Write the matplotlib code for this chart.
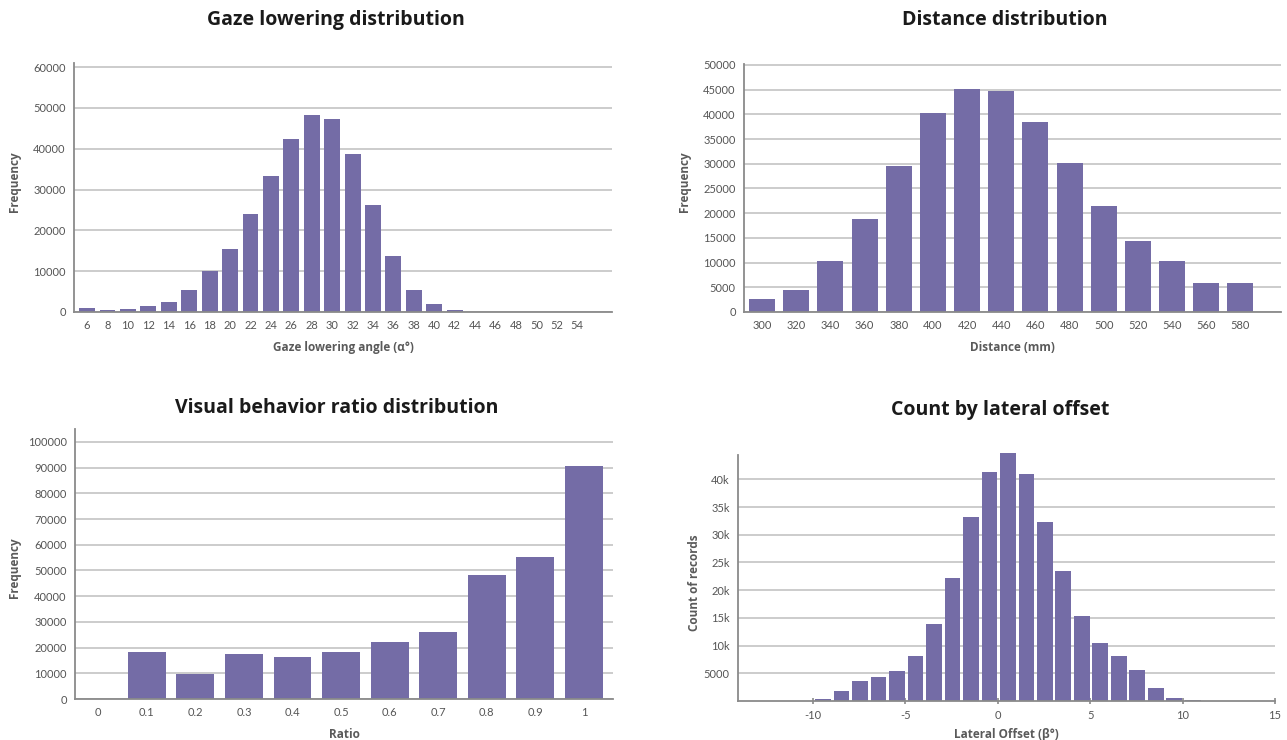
import numpy as np
import matplotlib
matplotlib.use('Agg')
import matplotlib.pyplot as plt

#------------------------------------------------------------------
# data
#------------------------------------------------------------------

gaze_angles = ['6', '8', '10', '12', '14', '16', '18', '20', '22', '24', '26', '28', '30',
               '32', '34', '36', '38', '40', '42', '44', '46', '48', '50', '52', '54']
gaze_freq = [1100, 400, 800, 1550, 2500, 5500, 10000, 15500, 23900, 33400, 42300, 48150, 47400,
             38600, 26300, 13800, 5500, 2050, 570, 0, 0, 0, 0, 0, 0]

distances = ['300', '320', '340', '360', '380', '400', '420', '440', '460', '480', '500',
             '520', '540', '560', '580']
distance_freq = [2550, 4400, 10270, 18800, 29550, 40300, 45150, 44750, 38450, 30100, 21400,
                 14300, 10270, 5800, 5800]

ratios = ['0', '0.1', '0.2', '0.3', '0.4', '0.5', '0.6', '0.7', '0.8', '0.9', '1']
ratio_freq = [0, 18200, 9600, 17400, 16200, 18200, 22100, 26000, 48200, 55200, 90600]

# lateral offset bins, left edge of each 1 degree bin
offset_bins = [-10, -9, -8, -7, -6, -5, -4, -3, -2, -1, 0, 1, 2, 3, 4, 5, 6, 7, 8, 9, 10]
offset_count = [420, 1800, 3670, 4330, 5410, 8120, 13900, 22200, 33200, 41300, 44750, 40950,
                32300, 23450, 15350, 10450, 8120, 5600, 2350, 540, 180]

#------------------------------------------------------------------
# settings
#------------------------------------------------------------------

bar_color = '#746ca6'
grid_color = '#c4c4c4'
spine_color = '#8a8a8a'
tick_color = '#555555'
label_color = '#5a5a5a'

plt.rcParams['font.family'] = ['Lato', 'DejaVu Sans']
plt.rcParams['axes.unicode_minus'] = False
head_font = ['Open Sans', 'DejaVu Sans']

W, H = 1287, 740
fig = plt.figure(figsize=(W/100, H/100), dpi=100)

def add_ax(left, top, right, bottom):
    return fig.add_axes([left/W, 1 - bottom/H, (right-left)/W, (bottom-top)/H])

def style(ax, title, title_x, title_y, xlabel, ylabel, ylabel_x, ylabel_y):
    for s in ['top', 'right']:
        ax.spines[s].set_visible(False)
    for s in ['left', 'bottom']:
        ax.spines[s].set_color(spine_color)
        ax.spines[s].set_linewidth(1.3)
    ax.yaxis.grid(True, color=grid_color, linewidth=1.2)
    ax.set_axisbelow(True)
    ax.tick_params(axis='both', length=0, labelsize=8, labelcolor=tick_color, pad=6)
    ax.set_xlabel(xlabel, fontsize=8.5, fontweight='bold', color=label_color, labelpad=7,
                  family=head_font)
    ax.set_ylabel(ylabel, fontsize=8.5, fontweight='bold', color=label_color,
                  family=head_font, va='center')
    ax.yaxis.set_label_coords(ylabel_x/W, 1 - ylabel_y/H, transform=fig.transFigure)
    fig.text(title_x/W, 1 - title_y/H, title, fontsize=14, fontweight='bold', color='#1a1a1a',
             ha='center', va='center', family=head_font)

#------------------------------------------------------------------
# gaze lowering
#------------------------------------------------------------------

ax1 = add_ax(74, 63, 612, 312)
x = np.arange(len(gaze_angles))
ax1.bar(x, gaze_freq, width=0.78, color=bar_color)
ax1.set_xticks(x)
ax1.set_xticklabels(gaze_angles)
ax1.set_xlim(-0.64, 25.7)
ax1.set_ylim(0, 61000)
ax1.set_yticks(np.arange(0, 60001, 10000))
style(ax1, 'Gaze lowering distribution', 336, 20, 'Gaze lowering angle (α°)',
      'Frequency', 14, 182)

#------------------------------------------------------------------
# distance
#------------------------------------------------------------------

ax2 = add_ax(744, 64, 1281, 312)
x = np.arange(len(distances))
ax2.bar(x, distance_freq, width=0.76, color=bar_color)
ax2.set_xticks(x)
ax2.set_xticklabels(distances)
ax2.set_xlim(-0.53, 15.19)
ax2.set_ylim(0, 50200)
ax2.set_yticks(np.arange(0, 50001, 5000))
style(ax2, 'Distance distribution', 1005, 20, 'Distance (mm)', 'Frequency', 685, 182)

#------------------------------------------------------------------
# visual behavior ratio
#------------------------------------------------------------------

ax3 = add_ax(75, 429, 613, 699)
x = np.arange(len(ratios))
ax3.bar(x, ratio_freq, width=0.78, color=bar_color)
ax3.set_xticks(x)
ax3.set_xticklabels(ratios)
ax3.set_xlim(-0.48, 10.6)
ax3.set_ylim(0, 105000)
ax3.set_yticks(np.arange(0, 100001, 10000))
style(ax3, 'Visual behavior ratio distribution', 337, 408, 'Ratio', 'Frequency', 15, 568)

#------------------------------------------------------------------
# lateral offset
#------------------------------------------------------------------

ax4 = add_ax(738, 455, 1275, 701)
centers = np.array(offset_bins) + 0.55
ax4.bar(centers, offset_count, width=0.85, color=bar_color, clip_on=False)
ax4.set_xlim(-14.05, 15)
ax4.set_ylim(0, 44400)
ax4.set_xticks([-10, -5, 0, 5, 10, 15])
ax4.set_yticks(np.arange(5000, 40001, 5000))
ax4.set_yticklabels(['5000', '10k', '15k', '20k', '25k', '30k', '35k', '40k'])
style(ax4, 'Count by lateral offset', 1000, 410, 'Lateral Offset (β°)',
      'Count of records', 695, 583)
ax4.tick_params(axis='x', length=5, direction='inout', color=spine_color, width=1.2, pad=4)
ax4.xaxis.labelpad = 5

fig.savefig('out.png', dpi=100)
